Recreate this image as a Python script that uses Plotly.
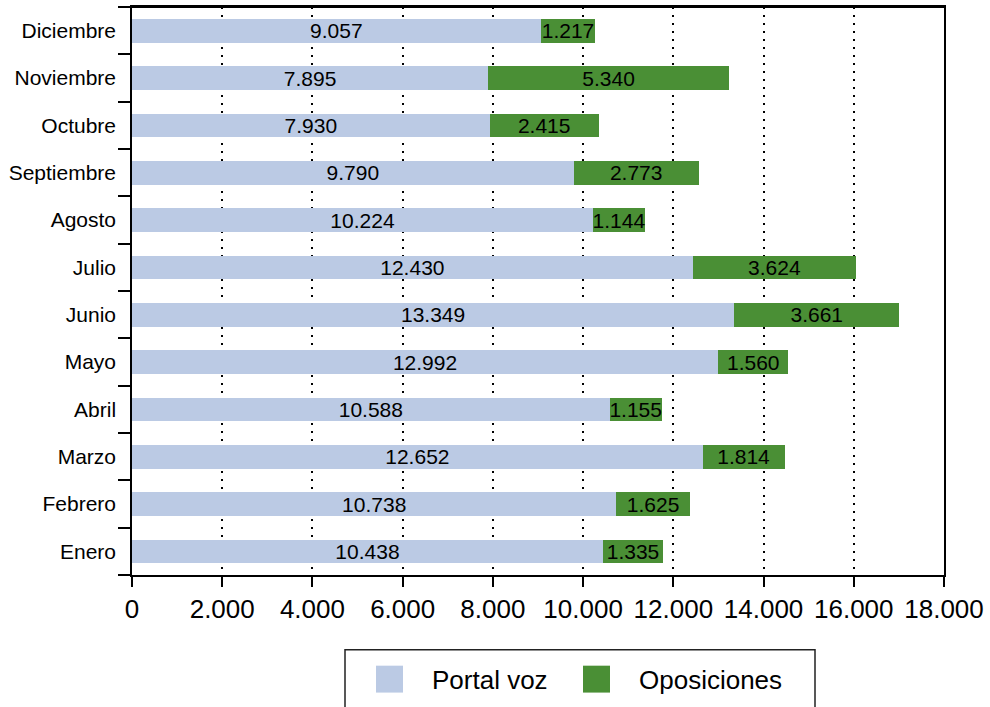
import plotly.graph_objects as go

meses = ["Enero", "Febrero", "Marzo", "Abril", "Mayo", "Junio", "Julio",
         "Agosto", "Septiembre", "Octubre", "Noviembre", "Diciembre"]
portal_voz = [10438, 10738, 12652, 10588, 12992, 13349, 12430,
              10224, 9790, 7930, 7895, 9057]
oposiciones = [1335, 1625, 1814, 1155, 1560, 3661, 3624,
               1144, 2773, 2415, 5340, 1217]
x_ticks = list(range(0, 18001, 2000))
series_names = ["Portal voz", "Oposiciones"]
colors = ["#BBCAE4", "#4A8F35"]

FONT = "Liberation Sans, Arial, Helvetica, sans-serif"
W, H = 990, 707
ML, MR, MT, MB = 132, 46, 5, 132
pw, ph = W - ML - MR, H - MT - MB


def px_x(p):
    return (p - ML) / pw


def px_y(p):
    return (H - MB - p) / ph


fig = go.Figure()
for name, vals, col in zip(series_names, [portal_voz, oposiciones], colors):
    fig.add_trace(go.Bar(
        y=meses, x=vals, name=name, orientation="h",
        marker=dict(color=col, line=dict(width=0)),
        texttemplate="%{x:,}", textposition="inside",
        insidetextanchor="middle", textangle=0, constraintext="none",
        textfont=dict(family=FONT, size=21, color="black"),
        showlegend=False, cliponaxis=False,
    ))

# top frame line
shapes = [
    dict(type="line", xref="paper", yref="paper", x0=px_x(120), x1=1, y0=1, y1=1,
         line=dict(color="black", width=2), layer="above"),
]
# legend drawn as layout decorations
shapes.append(dict(type="rect", xref="paper", yref="paper",
                   x0=px_x(345), x1=px_x(815), y0=px_y(718), y1=px_y(650),
                   line=dict(color="#222", width=1.5), fillcolor="white", layer="above"))
annotations = []
for name, col, sx, tx in zip(series_names, colors, [376, 583], [430, 637]):
    shapes.append(dict(type="rect", xref="paper", yref="paper",
                       x0=px_x(sx), x1=px_x(sx + 27), y0=px_y(693), y1=px_y(666),
                       line=dict(width=0), fillcolor=col, layer="above"))
    annotations.append(dict(text=name, xref="paper", yref="paper",
                            x=px_x(tx), y=px_y(680), xanchor="left", yanchor="middle",
                            showarrow=False, font=dict(family=FONT, size=26, color="black")))

fig.update_layout(
    width=W, height=H,
    margin=dict(l=ML, r=MR, t=MT, b=MB),
    barmode="stack", bargap=0.5,
    separators=",.",
    plot_bgcolor="white", paper_bgcolor="white",
    font=dict(family=FONT, color="black"),
    shapes=shapes, annotations=annotations,
)
fig.update_xaxes(
    range=[0, 18000], tickvals=x_ticks, tickformat=",d",
    ticks="outside", ticklen=10, tickwidth=1.5, tickcolor="black",
    showline=True, linecolor="black", linewidth=1.5, mirror=True,
    showgrid=True, gridcolor="black", gridwidth=1.5, griddash="2px,6px",
    zeroline=False, tickfont=dict(size=26, family=FONT, color="black"),
)
fig.update_yaxes(
    type="category", categoryorder="array", categoryarray=meses,
    tickson="boundaries", ticks="outside", ticklen=12, tickwidth=1.5, tickcolor="black",
    ticklabelstandoff=10,
    showline=True, linecolor="black", linewidth=1.5, mirror=True,
    showgrid=False, zeroline=False,
    tickfont=dict(size=21, family=FONT, color="black"),
)

fig.write_html("out.html", config={"displayModeBar": False},
               post_script="document.body.style.margin='0';document.body.style.overflow='hidden';window.scrollTo(0,0);")
